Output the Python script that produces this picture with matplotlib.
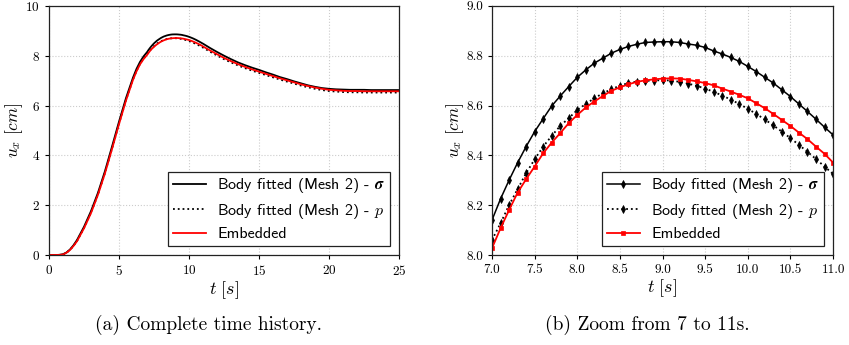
import matplotlib
matplotlib.use("Agg")
import matplotlib.pyplot as plt

# rise part of the time history (before 7 s)
t_rise = [0.0, 0.5, 0.75, 1.0, 1.25, 1.5, 1.75, 2.0, 2.5, 3.0, 3.5, 4.0, 4.5,
          5.0, 5.5, 6.0, 6.25, 6.5, 6.75]
ux_sigma_rise = [0.0, 0.0, 0.005, 0.03, 0.1, 0.22, 0.39, 0.6, 1.13, 1.76, 2.5,
                 3.37, 4.35, 5.35, 6.3, 7.12, 7.47, 7.75, 7.97]
ux_p_rise = [0.0, 0.0, 0.003, 0.02, 0.09, 0.2, 0.37, 0.56, 1.08, 1.7, 2.44,
             3.3, 4.27, 5.27, 6.22, 7.05, 7.39, 7.67, 7.88]
ux_emb_rise = [0.0, 0.0, 0.003, 0.02, 0.09, 0.2, 0.36, 0.55, 1.07, 1.68, 2.42,
               3.28, 4.25, 5.25, 6.2, 7.03, 7.37, 7.65, 7.86]

# zoom 7 - 11 s (0.1 s spacing)
t_zoom = [7.0, 7.1, 7.2, 7.3, 7.4, 7.5, 7.6, 7.7, 7.8, 7.9, 8.0, 8.1, 8.2, 8.3,
          8.4, 8.5, 8.6, 8.7, 8.8, 8.9, 9.0, 9.1, 9.2, 9.3, 9.4, 9.5, 9.6, 9.7,
          9.8, 9.9, 10.0, 10.1, 10.2, 10.3, 10.4, 10.5, 10.6, 10.7, 10.8, 10.9, 11.0]
ux_sigma_zoom = [8.14, 8.225, 8.30, 8.37, 8.435, 8.495, 8.547, 8.598, 8.638,
                 8.676, 8.713, 8.743, 8.77, 8.79, 8.81, 8.825, 8.837, 8.846,
                 8.853, 8.855, 8.856, 8.856, 8.853, 8.847, 8.842, 8.833, 8.819,
                 8.807, 8.793, 8.777, 8.757, 8.736, 8.713, 8.69, 8.663, 8.636,
                 8.606, 8.576, 8.545, 8.513, 8.482]
ux_p_zoom = [8.06, 8.127, 8.20, 8.264, 8.328, 8.384, 8.435, 8.478, 8.518,
             8.549, 8.582, 8.606, 8.629, 8.649, 8.665, 8.68, 8.69, 8.696,
             8.699, 8.70, 8.702, 8.70, 8.695, 8.688, 8.679, 8.668, 8.655, 8.64,
             8.624, 8.606, 8.587, 8.566, 8.544, 8.52, 8.495, 8.469, 8.442,
             8.414, 8.385, 8.355, 8.325]
ux_emb_zoom = [8.027, 8.107, 8.18, 8.25, 8.304, 8.355, 8.408, 8.451, 8.489,
               8.529, 8.562, 8.592, 8.616, 8.638, 8.659, 8.673, 8.685, 8.695,
               8.701, 8.705, 8.708, 8.709, 8.708, 8.703, 8.697, 8.69, 8.681,
               8.668, 8.656, 8.643, 8.629, 8.609, 8.589, 8.566, 8.542, 8.518,
               8.491, 8.465, 8.435, 8.406, 8.371]

# decay part (after 11 s)
t_decay = [11.5, 12.0, 12.5, 13.0, 13.5, 14.0, 14.5, 15.0, 15.5, 16.0, 16.5,
           17.0, 17.5, 18.0, 18.5, 19.0, 19.5, 20.0, 20.5, 21.0, 21.5, 22.0,
           22.5, 23.0, 23.5, 24.0, 24.5, 25.0]
ux_sigma_decay = [8.31, 8.15, 8.0, 7.86, 7.73, 7.62, 7.52, 7.43, 7.33, 7.24,
                  7.14, 7.06, 6.97, 6.89, 6.81, 6.75, 6.7, 6.67, 6.65, 6.64,
                  6.63, 6.63, 6.63, 6.62, 6.62, 6.62, 6.62, 6.62]
ux_p_decay = [8.16, 8.01, 7.86, 7.73, 7.61, 7.5, 7.4, 7.31, 7.22, 7.13, 7.04,
              6.96, 6.88, 6.8, 6.73, 6.67, 6.62, 6.58, 6.56, 6.54, 6.53, 6.53,
              6.52, 6.52, 6.52, 6.52, 6.52, 6.52]
ux_emb_decay = [8.21, 8.06, 7.91, 7.78, 7.66, 7.55, 7.45, 7.36, 7.27, 7.18,
                7.09, 7.01, 6.93, 6.85, 6.78, 6.72, 6.67, 6.63, 6.61, 6.59,
                6.58, 6.58, 6.57, 6.57, 6.57, 6.57, 6.57, 6.57]

labels = ["Body fitted (Mesh 2) - $\\boldsymbol{\\sigma}$",
          "Body fitted (Mesh 2) - $p$",
          "Embedded"]
captions = ["(a) Complete time history.", "(b) Zoom from 7 to 11s."]

plt.rcParams["mathtext.fontset"] = "cm"
plt.rcParams["font.family"] = ["cmr10", "DejaVu Serif"]
plt.rcParams["axes.formatter.use_mathtext"] = True
plt.rcParams["axes.unicode_minus"] = False

fig = plt.figure(figsize=(8.49, 3.45), dpi=100)
ax1 = fig.add_axes([0.0577, 0.261, 0.4123, 0.722])
ax2 = fig.add_axes([0.5795, 0.261, 0.4017, 0.722])


def style(ax):
    ax.grid(True, linestyle=":", color="#cccccc", linewidth=0.8)
    ax.set_axisbelow(True)
    for s in ax.spines.values():
        s.set_color("#222222")
        s.set_linewidth(0.9)
    ax.tick_params(labelsize=9.5, length=3, width=0.8)
    ax.set_xlabel("$t\\ [s]$", fontsize=13, labelpad=1)
    ax.set_ylabel("$u_x\\ [cm]$", fontsize=12.5, labelpad=0)


# (a) complete history
t_full = t_rise + t_zoom + t_decay
ax1.plot(t_full, ux_sigma_rise + ux_sigma_zoom + ux_sigma_decay,
         color="black", lw=1.3, label=labels[0])
ax1.plot(t_full, ux_p_rise + ux_p_zoom + ux_p_decay,
         color="black", lw=1.3, ls=":", label=labels[1])
ax1.plot(t_full, ux_emb_rise + ux_emb_zoom + ux_emb_decay,
         color="red", lw=1.3, label=labels[2])
ax1.set_xlim(0, 25)
ax1.set_ylim(0, 10)
ax1.set_xticks([0, 5, 10, 15, 20, 25])
ax1.set_yticks([0, 2, 4, 6, 8, 10])
style(ax1)

# (b) zoom
ax2.plot(t_zoom, ux_sigma_zoom, color="black", lw=1.1, marker="d", ms=4.2,
         mew=0.5, label=labels[0])
ax2.plot(t_zoom, ux_p_zoom, color="black", lw=1.3, ls=":", marker="d", ms=4.2,
         mew=0.5, label=labels[1])
ax2.plot(t_zoom, ux_emb_zoom, color="red", lw=1.3, marker="s", ms=3.1,
         mew=0.5, label=labels[2])
ax2.set_xlim(7, 11)
ax2.set_ylim(8, 9)
ax2.set_xticks([7.0, 7.5, 8.0, 8.5, 9.0, 9.5, 10.0, 10.5, 11.0])
ax2.set_xticklabels(["7.0", "7.5", "8.0", "8.5", "9.0", "9.5", "10.0", "10.5", "11.0"])
ax2.set_yticks([8.0, 8.2, 8.4, 8.6, 8.8, 9.0])
ax2.set_yticklabels(["8.0", "8.2", "8.4", "8.6", "8.8", "9.0"])
style(ax2)

for ax in (ax1, ax2):
    leg = ax.legend(loc="lower right", fancybox=False, framealpha=1,
                    edgecolor="#222222",
                    prop={"family": ["cmss10", "DejaVu Sans"], "size": 11.5},
                    handlelength=2.1, handletextpad=0.7, borderpad=0.3,
                    labelspacing=0.4, borderaxespad=0.55)
    leg.get_frame().set_linewidth(0.9)

fig.text(0.245, 0.045, captions[0], ha="center", fontsize=14)
fig.text(0.762, 0.045, captions[1], ha="center", fontsize=14)

fig.savefig("out.png", dpi=100)
